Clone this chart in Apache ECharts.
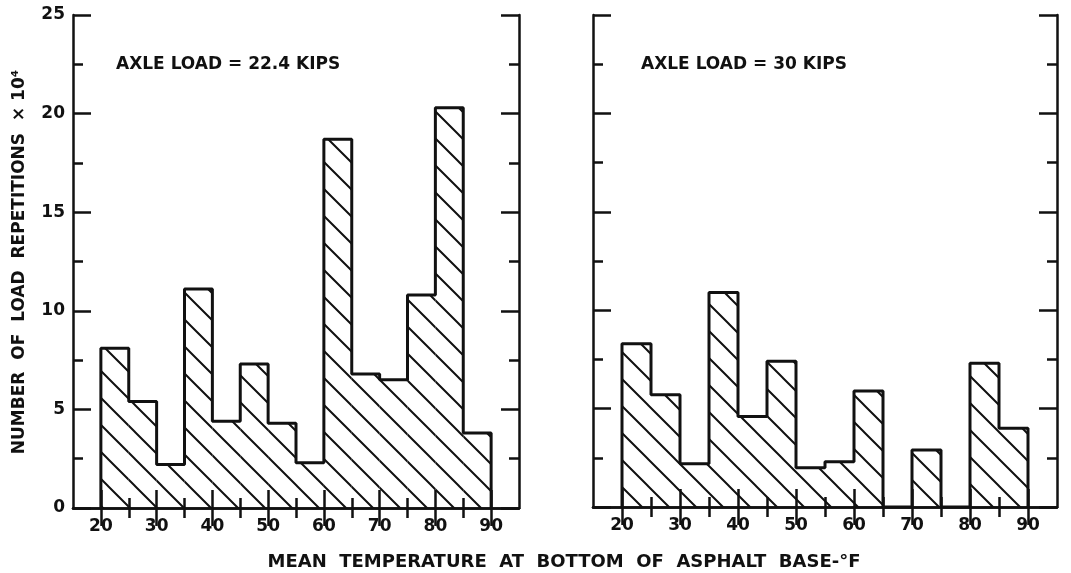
<!DOCTYPE html>
<html>
<head>
<meta charset="utf-8">
<script src="https://cdn.jsdelivr.net/npm/echarts@6/dist/echarts.min.js"></script>
<style>
  html, body { margin: 0; padding: 0; background: #fff; }
  #chart { width: 1071px; height: 573px; }
</style>
</head>
<body>
<div id="chart"></div>
<script>
// 5 degree temperature bins, 20-90 F
const binStarts = [20, 25, 30, 35, 40, 45, 50, 55, 60, 65, 70, 75, 80, 85];
const binWidth = 5;
// number of load repetitions x 10^4
const load224 = [8.1, 5.4, 2.2, 11.1, 4.4, 7.3, 4.3, 2.3, 18.7, 6.8, 6.5, 10.8, 20.3, 3.8];
const load30 = [8.3, 5.7, 2.2, 10.9, 4.6, 7.4, 2.0, 2.3, 5.9, 0, 2.9, 0, 7.3, 4.0];
// tick positions
const xMajorTicks = [20, 30, 40, 50, 60, 70, 80, 90];
const xMinorTicks = [25, 35, 45, 55, 65, 75, 85];
const yMajorTicks = [0, 5, 10, 15, 20, 25];
const yMinorTicks = [2.5, 7.5, 12.5, 17.5, 22.5];

const FONT = 'DejaVu Sans';
const INK = '#111';

// diagonal hatch pattern
const hatch = document.createElement('canvas');
hatch.width = 27;
hatch.height = 27;
const hctx = hatch.getContext('2d');
hctx.strokeStyle = INK;
hctx.lineWidth = 2;
hctx.beginPath();
[-27, 0, 27].forEach(k => {
  hctx.moveTo(k - 2, -2);
  hctx.lineTo(k + 29, 29);
});
hctx.stroke();

function renderBin (params, api) {
  const x0 = api.value(0);
  const h = api.value(1);
  const p0 = api.coord([x0, h]);
  const p1 = api.coord([x0 + binWidth, 0]);
  return {
    type: 'rect',
    shape: { x: p0[0], y: p0[1], width: p1[0] - p0[0], height: p1[1] - p0[1] },
    style: { fill: { image: hatch, repeat: 'repeat' } },
    silent: true
  };
}

// step outline of the histogram
function outline (values) {
  const pts = [[binStarts[0], 0]];
  binStarts.forEach((x, i) => {
    pts.push([x, values[i]]);
    pts.push([x + binWidth, values[i]]);
  });
  pts.push([binStarts[binStarts.length - 1] + binWidth, 0]);
  return pts;
}

const xAxes = [];
const yAxes = [];
function addAxes (g, showYLabels) {
  const line = { show: true, lineStyle: { color: INK, width: 2.5 } };
  const noLine = { show: false };
  const xbase = { type: 'value', gridIndex: g, min: 15, max: 95, splitLine: { show: false } };
  const ybase = { type: 'value', gridIndex: g, min: 0, max: 25, splitLine: { show: false } };
  const label = {
    show: true, color: INK, fontFamily: FONT, fontWeight: 'bold', fontSize: 17
  };
  ['bottom', 'top'].forEach(pos => {
    xAxes.push(Object.assign({}, xbase, {
      position: pos,
      axisLine: line,
      axisTick: { show: true, inside: true, length: 18, customValues: xMajorTicks, lineStyle: { color: INK, width: 2.5 } },
      axisLabel: pos === 'bottom'
        ? Object.assign({ margin: 10, customValues: xMajorTicks }, label)
        : { show: false }
    }));
    xAxes.push(Object.assign({}, xbase, {
      position: pos,
      axisLine: noLine,
      axisTick: { show: true, inside: true, length: 10, customValues: xMinorTicks, lineStyle: { color: INK, width: 2.5 } },
      axisLabel: { show: false }
    }));
  });
  ['left', 'right'].forEach(pos => {
    yAxes.push(Object.assign({}, ybase, {
      position: pos,
      axisLine: line,
      axisTick: { show: true, inside: true, length: 18, customValues: yMajorTicks, lineStyle: { color: INK, width: 2.5 } },
      axisLabel: (pos === 'left' && showYLabels)
        ? Object.assign({ margin: 8, customValues: yMajorTicks }, label)
        : { show: false }
    }));
    yAxes.push(Object.assign({}, ybase, {
      position: pos,
      axisLine: noLine,
      axisTick: { show: true, inside: true, length: 10, customValues: yMinorTicks, lineStyle: { color: INK, width: 2.5 } },
      axisLabel: { show: false }
    }));
  });
}
addAxes(0, true)
addAxes(1, false)

function panelSeries (g, values) {
  return [
    {
      type: 'custom',
      xAxisIndex: g * 4,
      yAxisIndex: g * 4,
      renderItem: renderBin,
      data: binStarts.map((x, i) => [x, values[i]]),
      z: 2
    },
    {
      type: 'line',
      xAxisIndex: g * 4,
      yAxisIndex: g * 4,
      data: outline(values),
      symbol: 'none',
      lineStyle: { color: INK, width: 3 },
      z: 3
    }
  ];
}

const textStyle = { fill: INK, fontFamily: FONT, fontWeight: 'bold', fontSize: 17 };

const option = {
  animation: false,
  backgroundColor: '#fff',
  grid: [
    { left: 73, top: 15, width: 446, height: 493 },
    { left: 593, top: 15, width: 464, height: 492 }
  ],
  xAxis: xAxes,
  yAxis: yAxes,
  series: panelSeries(0, load224).concat(panelSeries(1, load30)),
  graphic: [
    {
      type: 'text', left: 116, top: 56,
      style: Object.assign({ text: 'AXLE LOAD = 22.4 KIPS' }, textStyle)
    },
    {
      type: 'text', left: 641, top: 56,
      style: Object.assign({ text: 'AXLE LOAD = 30 KIPS' }, textStyle)
    },
    {
      type: 'text', x: 564, y: 562,
      style: Object.assign({
        text: 'MEAN  TEMPERATURE  AT  BOTTOM  OF  ASPHALT  BASE-°F',
        align: 'center', verticalAlign: 'middle'
      }, textStyle, { fontSize: 18 })
    },
    {
      type: 'text', x: 20, y: 262, rotation: Math.PI / 2,
      style: Object.assign({
        text: 'NUMBER  OF  LOAD  REPETITIONS  × 10⁴',
        align: 'center', verticalAlign: 'middle'
      }, textStyle)
    }
  ]
};

const myChart = echarts.init(document.getElementById('chart'));
myChart.setOption(option);
</script>
</body>
</html>
